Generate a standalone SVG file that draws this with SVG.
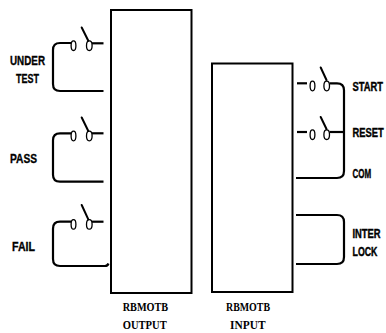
<svg xmlns="http://www.w3.org/2000/svg" width="386" height="333" viewBox="0 0 386 333">
<style>
.box{fill:#fff;stroke:#000;stroke-width:2}
.w{fill:none;stroke:#000;stroke-width:2.2;stroke-linecap:butt}
.c{fill:#fff;stroke:#000;stroke-width:1.3}
.lv{stroke:#000;stroke-width:2;stroke-linecap:round}
.lbl{font-family:"Liberation Sans",Arial,sans-serif;font-weight:bold;fill:#000;stroke:#000;stroke-width:0.35}
.rl{font-family:"Liberation Sans",Arial,sans-serif;font-weight:bold;font-size:12px;fill:#000;stroke:#000;stroke-width:0.4}
.ttl{font-family:"Liberation Serif","Times New Roman",serif;font-weight:bold;font-size:12px;fill:#000}
</style>
<rect width="386" height="333" fill="#fff"/>
<g id="remote-output">
<rect class="box" x="111" y="10" width="80.5" height="283"/>
<text class="ttl" x="122.7" y="311" textLength="45.5" lengthAdjust="spacingAndGlyphs">RBMOTB</text>
<text class="ttl" x="122.7" y="329" textLength="44" lengthAdjust="spacingAndGlyphs">OUTPUT</text>
</g>
<g id="remote-input">
<rect class="box" x="212" y="63.5" width="80.5" height="228.5"/>
<text class="ttl" x="226" y="311" textLength="44" lengthAdjust="spacingAndGlyphs">RBMOTB</text>
<text class="ttl" x="230" y="329" textLength="35.5" lengthAdjust="spacingAndGlyphs">INPUT</text>
</g>
<g id="connectors">
<path class="w" d="M71 43 H60 Q53 43 53 50 V84 Q53 91 60 91 H103.5"/>
<path class="w" d="M92 43.3 H103.5"/>
<path class="w" d="M71 133.3 H60 Q53 133.3 53 140.3 V174.7 Q53 181.7 60 181.7 H103.5"/>
<path class="w" d="M92 133.3 H103.5"/>
<path class="w" d="M71 221.7 H60 Q53 221.7 53 228.7 V259 Q53 266 60 266 H105 Q107.5 266 108.5 263.5"/>
<path class="w" d="M92 221.7 H103.5"/>
<path class="w" d="M297 83.3 H307"/>
<path class="w" d="M329.5 83.3 H337 Q344 83.3 344 90.3 V171 Q344 178 337 178 H296"/>
<path class="w" d="M297 132 H307"/>
<path class="w" d="M329.5 132 H344"/>
<path class="w" d="M296 215 H337 Q344 215 344 222 V257 Q344 264 337 264 H296"/>
</g>
<g id="sw-under-test">
<ellipse class="c" cx="73.5" cy="45.7" rx="2.4" ry="4.8"/>
<ellipse class="c" cx="89.3" cy="45.7" rx="2.8" ry="4.8"/>
<line class="lv" x1="81.7" y1="27.5" x2="88.3" y2="40.7"/>
<text class="lbl" x="10" y="65" font-size="13.5" textLength="35" lengthAdjust="spacingAndGlyphs">UNDER</text>
<text class="lbl" x="16" y="83.3" font-size="13.5" textLength="23" lengthAdjust="spacingAndGlyphs">TEST</text>
</g>
<g id="sw-pass">
<ellipse class="c" cx="73.5" cy="136" rx="2.4" ry="4.8"/>
<ellipse class="c" cx="89.3" cy="136" rx="2.8" ry="4.8"/>
<line class="lv" x1="81.7" y1="117.5" x2="88.3" y2="131"/>
<text class="lbl" x="10" y="163.3" font-size="13.5" textLength="27" lengthAdjust="spacingAndGlyphs">PASS</text>
</g>
<g id="sw-fail">
<ellipse class="c" cx="73.5" cy="224.4" rx="2.4" ry="4.8"/>
<ellipse class="c" cx="89.3" cy="224.4" rx="2.8" ry="4.8"/>
<line class="lv" x1="81.7" y1="205" x2="88.3" y2="219.3"/>
<text class="lbl" x="12" y="251" font-size="13.5" textLength="23" lengthAdjust="spacingAndGlyphs">FAIL</text>
</g>
<g id="sw-start">
<ellipse class="c" cx="312.5" cy="86" rx="2.4" ry="4.8"/>
<ellipse class="c" cx="326.7" cy="86" rx="2.8" ry="4.8"/>
<line class="lv" x1="320.7" y1="67.5" x2="326.5" y2="80"/>
<text class="rl" transform="translate(352.5 91.2) scale(0.78 1)" textLength="39" lengthAdjust="spacingAndGlyphs">START</text>
</g>
<g id="sw-reset">
<ellipse class="c" cx="312.5" cy="134.7" rx="2.4" ry="4.8"/>
<ellipse class="c" cx="326.7" cy="134.7" rx="2.8" ry="4.8"/>
<line class="lv" x1="320.7" y1="117" x2="326.5" y2="129"/>
<text class="rl" transform="translate(352.5 137.2) scale(0.78 1)" textLength="40" lengthAdjust="spacingAndGlyphs">RESET</text>
</g>
<g id="com">
<text class="rl" transform="translate(352.5 177.5) scale(0.78 1)" textLength="24" lengthAdjust="spacingAndGlyphs">COM</text>
</g>
<g id="interlock">
<text class="rl" transform="translate(352.5 237.5) scale(0.78 1)" textLength="36" lengthAdjust="spacingAndGlyphs">INTER</text>
<text class="rl" transform="translate(352.5 256) scale(0.78 1)" textLength="32" lengthAdjust="spacingAndGlyphs">LOCK</text>
</g>
</svg>
